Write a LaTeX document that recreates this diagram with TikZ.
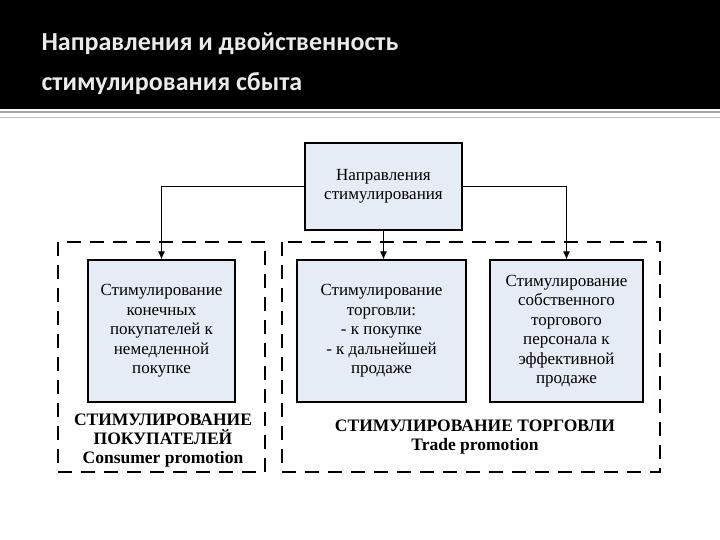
\documentclass[tikz,border=0pt]{standalone}
\usepackage{fontspec}
\usetikzlibrary{arrows.meta}
\setmainfont{Liberation Serif}
\newfontfamily\titlefont{Carlito}
\begin{document}
\begin{tikzpicture}[x=1pt,y=-1pt,
  bx/.style={draw=black,line width=1.2pt,fill={rgb,255:red,230;green,236;blue,246},align=center,font=\fontsize{17}{19.5}\selectfont,inner sep=0pt},
  grp/.style={draw=black,line width=2.2pt,dash pattern=on 14pt off 9pt},
  arr/.style={line width=0.9pt,-{Latex[length=8pt,width=7pt]}},
  lbl/.style={align=center,font=\bfseries\fontsize{17.5}{19}\selectfont}]
\useasboundingbox (0,0) rectangle (720,540);
\fill[black] (0,0) rectangle (720,109);
\draw[gray!70,line width=2pt] (0,112) -- (720,112);
\draw[gray!50,line width=0.6pt] (0,117) -- (720,117);
\node[anchor=west,text=white!92!black,align=left,font=\titlefont\bfseries\fontsize{26}{40}\selectfont] (title) at (38,64) {Направления и двойственность\\стимулирования сбыта};
\draw[grp] (58,242) rectangle (265,472);
\draw[grp] (282,242) rectangle (660,472);
\node[bx,minimum width=157pt,minimum height=87pt] (top) at (383.5,186.5) {Направления\\стимулирования};
\node[bx,minimum width=147pt,minimum height=142pt] (b1) at (161.5,331) {Стимулирование\\конечных\\покупателей к\\немедленной\\покупке};
\node[bx,minimum width=169pt,minimum height=142pt] (b2) at (381.5,331) {Стимулирование\\торговли:\\- к покупке\\- к дальнейшей\\продаже};
\node[bx,minimum width=153pt,minimum height=142pt] (b3) at (566.5,331) {Стимулирование\\собственного\\торгового\\персонала к\\эффективной\\продаже};
\draw[arr] (top.west) -| (b1.north);
\draw[arr] (top.east) -| (b3.north);
\draw[arr] (top.south) -- (top.south |- b2.north);
\node[lbl] (l1) at (163,441) {СТИМУЛИРОВАНИЕ\\ПОКУПАТЕЛЕЙ\\Consumer promotion};
\node[lbl] (l2) at (475,437) {СТИМУЛИРОВАНИЕ ТОРГОВЛИ\\Trade promotion};
\end{tikzpicture}
\end{document}
